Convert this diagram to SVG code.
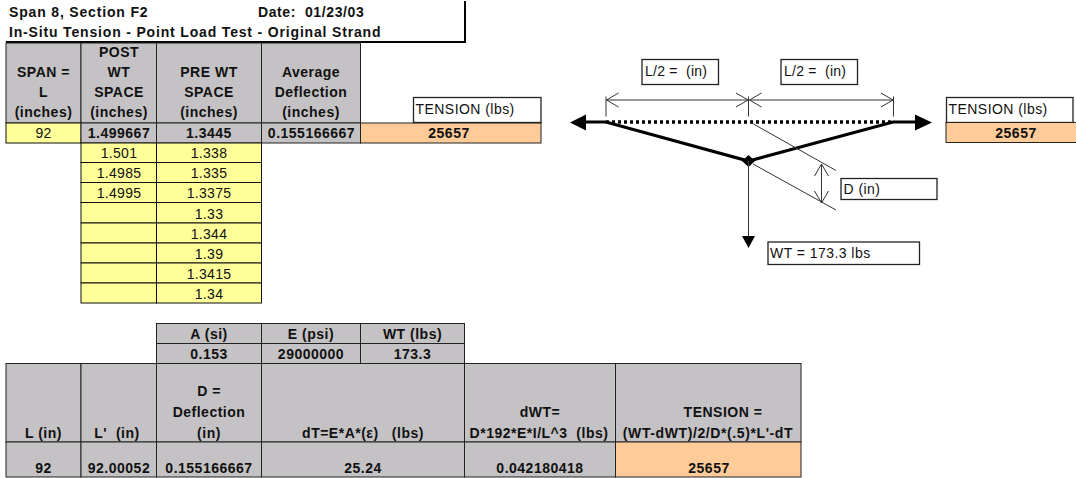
<svg xmlns="http://www.w3.org/2000/svg" width="1076" height="478" viewBox="0 0 1076 478">
<style>
text{font-family:"Liberation Sans",Arial,sans-serif;fill:#111;white-space:pre}
.b{font-weight:bold;font-size:14px;text-anchor:middle;letter-spacing:.5px}
.f{letter-spacing:.6px}
.l{font-weight:bold;font-size:14px;letter-spacing:.83px}
.n{font-size:14px;text-anchor:middle;letter-spacing:.3px}
.t{font-size:14px;letter-spacing:.45px}
.g{fill:#c4c2c4;stroke:#222;stroke-width:1}
.y{fill:#ffff99;stroke:#111;stroke-width:1}
.o{fill:#ffcc99;stroke:#222;stroke-width:1}
.w{fill:#fff;stroke:#222;stroke-width:1.3}
.thin{fill:none;stroke:#333;stroke-width:1}
.thick{fill:none;stroke:#000;stroke-width:3.2}
.solid{fill:#000;stroke:none}
</style>
<defs>
<marker id="open" viewBox="0 0 14 16" refX="13" refY="8" markerWidth="14" markerHeight="16" markerUnits="userSpaceOnUse" orient="auto-start-reverse"><path d="M1 1L13 8L1 15" fill="none" stroke="#333" stroke-width="1"/></marker>
</defs>
<g id="title">
<path d="M465 1V42.500M6 42H466" fill="none" stroke="#000" stroke-width="2"/>
<text class="l" x="9" y="17">Span 8, Section F2</text>
<text class="l" x="258" y="17" style="letter-spacing:.6px">Date:  01/23/03</text>
<text class="l" x="9" y="37">In-Situ Tension - Point Load Test - Original Strand</text>
</g>
<g id="span-table">
<rect class="g" x="6" y="43" width="75" height="80"/>
<rect class="g" x="81" y="43" width="75.500" height="80"/>
<rect class="g" x="156.500" y="43" width="105" height="80"/>
<rect class="g" x="261.500" y="43" width="99" height="80"/>
<rect class="y" x="6" y="123" width="75" height="20"/>
<rect class="g" x="81" y="123" width="75.500" height="20"/>
<rect class="g" x="156.500" y="123" width="105" height="20"/>
<rect class="g" x="261.500" y="123" width="99" height="20"/>
<rect class="o" x="360.500" y="123" width="180.500" height="20"/>
<text class="b" x="43.500" y="77">SPAN =</text>
<text class="b" x="43.500" y="97">L</text>
<text class="b" x="43.500" y="117">(inches)</text>
<text class="b" x="119" y="57">POST</text>
<text class="b" x="119" y="77">WT</text>
<text class="b" x="119" y="97">SPACE</text>
<text class="b" x="119" y="117">(inches)</text>
<text class="b" x="209" y="77">PRE WT</text>
<text class="b" x="209" y="97">SPACE</text>
<text class="b" x="209" y="117">(inches)</text>
<text class="b" x="311" y="77">Average</text>
<text class="b" x="311" y="97">Deflection</text>
<text class="b" x="311" y="117">(inches)</text>
<text class="n" x="43.500" y="138">92</text>
<text class="b" x="119" y="138">1.499667</text>
<text class="b" x="209" y="138">1.3445</text>
<text class="b" x="311.500" y="138">0.155166667</text>
<text class="b" x="449" y="138">25657</text>
</g>
<g id="readings">
<rect class="y" x="81" y="143" width="75.500" height="19.500"/><rect class="y" x="156.500" y="143" width="105" height="19.500"/>
<rect class="y" x="81" y="162.500" width="75.500" height="20"/><rect class="y" x="156.500" y="162.500" width="105" height="20"/>
<rect class="y" x="81" y="182.500" width="75.500" height="20"/><rect class="y" x="156.500" y="182.500" width="105" height="20"/>
<rect class="y" x="81" y="202.500" width="75.500" height="20.500"/><rect class="y" x="156.500" y="202.500" width="105" height="20.500"/>
<rect class="y" x="81" y="223" width="75.500" height="20"/><rect class="y" x="156.500" y="223" width="105" height="20"/>
<rect class="y" x="81" y="243" width="75.500" height="20"/><rect class="y" x="156.500" y="243" width="105" height="20"/>
<rect class="y" x="81" y="263" width="75.500" height="20"/><rect class="y" x="156.500" y="263" width="105" height="20"/>
<rect class="y" x="81" y="283" width="75.500" height="20"/><rect class="y" x="156.500" y="283" width="105" height="20"/>
<text class="n" x="119" y="158">1.501</text><text class="n" x="209" y="158">1.338</text>
<text class="n" x="119" y="178">1.4985</text><text class="n" x="209" y="178">1.335</text>
<text class="n" x="119" y="198">1.4995</text><text class="n" x="209" y="198">1.3375</text>
<text class="n" x="209" y="218.500">1.33</text>
<text class="n" x="209" y="238.500">1.344</text>
<text class="n" x="209" y="258.500">1.39</text>
<text class="n" x="209" y="279">1.3415</text>
<text class="n" x="209" y="299">1.34</text>
</g>
<g id="constants">
<rect class="g" x="156.500" y="323.500" width="105" height="20"/><rect class="g" x="261.500" y="323.500" width="99" height="20"/><rect class="g" x="360.500" y="323.500" width="104" height="20"/>
<rect class="g" x="156.500" y="343.500" width="105" height="20"/><rect class="g" x="261.500" y="343.500" width="99" height="20"/><rect class="g" x="360.500" y="343.500" width="104" height="20"/>
<text class="b" x="209" y="339">A (si)</text><text class="b" x="311" y="339">E (psi)</text><text class="b" x="412.500" y="339">WT (lbs)</text>
<text class="b" x="209" y="358.500">0.153</text><text class="b" x="311" y="358.500">29000000</text><text class="b" x="412.500" y="358.500">173.3</text>
</g>
<g id="results">
<rect class="g" x="6" y="363.500" width="75" height="78.500"/><rect class="g" x="81" y="363.500" width="75.500" height="78.500"/><rect class="g" x="156.500" y="363.500" width="105" height="78.500"/><rect class="g" x="261.500" y="363.500" width="203" height="78.500"/><rect class="g" x="464.500" y="363.500" width="151" height="78.500"/><rect class="g" x="615.500" y="363.500" width="185.500" height="78.500"/>
<rect class="g" x="6" y="442" width="75" height="35"/><rect class="g" x="81" y="442" width="75.500" height="35"/><rect class="g" x="156.500" y="442" width="105" height="35"/><rect class="g" x="261.500" y="442" width="203" height="35"/><rect class="g" x="464.500" y="442" width="151" height="35"/><rect class="o" x="615.500" y="442" width="185.500" height="35"/>
<text class="b" x="43.500" y="438">L (in)</text>
<text class="b" x="117" y="438">L'  (in)</text>
<text class="b" x="209" y="396">D =</text>
<text class="b" x="209" y="417">Deflection</text>
<text class="b" x="209" y="438">(in)</text>
<text class="b" x="363" y="438">dT=E*A*(ε)   (lbs)</text>
<text class="b" x="540" y="417">dWT=</text>
<text class="b" x="539" y="437.500">D*192*E*I/L^3  (lbs)</text>
<text class="b" x="723" y="417">TENSION =</text>
<text class="b f" x="708" y="437.500">(WT-dWT)/2/D*(.5)*L'-dT</text>
<text class="b" x="43.500" y="473">92</text>
<text class="b" x="119" y="473">92.00052</text>
<text class="b" x="209" y="473">0.155166667</text>
<text class="b" x="363" y="473">25.24</text>
<text class="b" x="540" y="473">0.042180418</text>
<text class="b" x="709" y="473">25657</text>
</g>
<g id="tension-label-left"><rect class="w" x="413.500" y="97.500" width="127.500" height="25"/><text class="t" x="415.500" y="113.500">TENSION (lbs)</text></g>
<g id="tension-label-right"><rect class="w" x="946.500" y="97.500" width="126.500" height="25"/><text class="t" x="948.500" y="113.500">TENSION (lbs)</text><rect class="o" x="946" y="122.500" width="131" height="20"/><text class="b" x="1016" y="138">25657</text></g>
<g id="half-span-left"><rect class="w" x="642" y="59.500" width="76.500" height="25"/><text class="t" x="645" y="76" style="letter-spacing:.25px">L/2 =  (in)</text></g>
<g id="half-span-right"><rect class="w" x="781" y="59.500" width="76.500" height="25"/><text class="t" x="784" y="76" style="letter-spacing:.25px">L/2 =  (in)</text></g>
<g id="deflection-label"><rect class="w" x="841" y="178.500" width="96" height="21"/><text class="t" x="843.500" y="194">D (in)</text></g>
<g id="weight-label"><rect class="w" x="768" y="242" width="151.500" height="22.500"/><text class="t" x="770" y="258">WT = 173.3 lbs</text></g>
<g id="connectors">
<path class="thin" d="M606 96.500V116.500M748.500 96.500V116.500M893.500 96.500V116.500"/>
<path class="thin" d="M606.500 100H748" marker-start="url(#open)" marker-end="url(#open)"/>
<path class="thin" d="M749.500 100H893" marker-start="url(#open)" marker-end="url(#open)"/>
<path d="M606 122H893" fill="none" stroke="#000" stroke-width="3.400" stroke-dasharray="3 3"/>
<path class="thick" d="M585 122H606L748.500 161L893 122H916"/>
<path class="solid" d="M570 122.500L586 114.500V130.500Z"/>
<path class="solid" d="M932 122.500L915 114.500V130.500Z"/>
<path class="solid" d="M748.500 155L755 161L748.500 167L742 161Z"/>
<path class="thin" d="M748.500 161V237"/>
<path class="solid" d="M748.500 248L742 236H755Z"/>
<path class="thin" d="M750 122L836 170.500M753 164L836 210"/>
<path class="thin" d="M821.500 164V203" marker-start="url(#open)" marker-end="url(#open)"/>
</g>
</svg>
